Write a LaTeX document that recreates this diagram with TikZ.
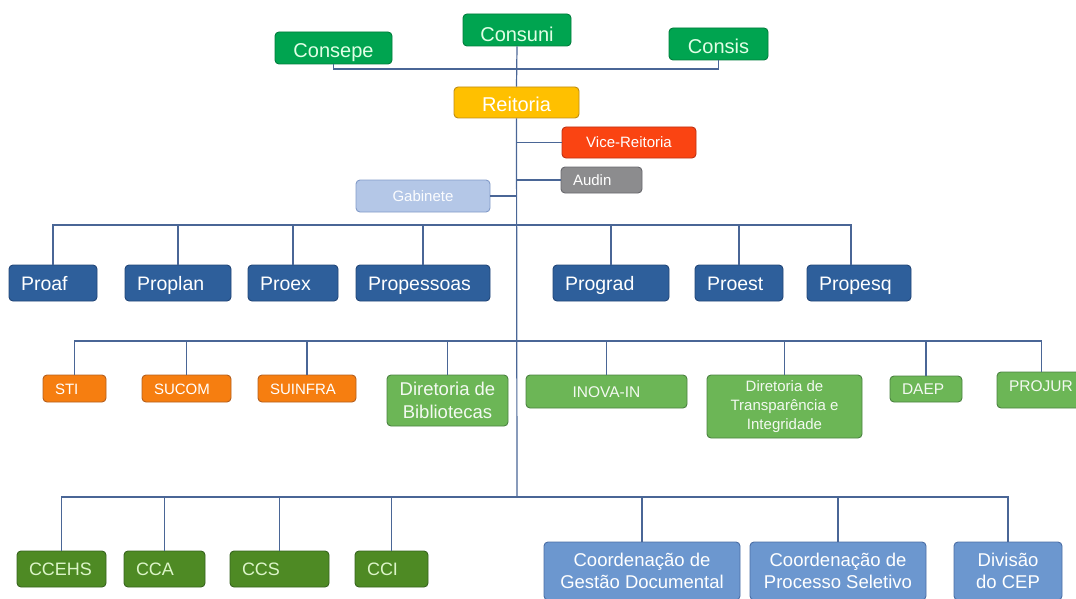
\documentclass[tikz,border=0pt]{standalone}
\usepackage{fontspec}
\setmainfont{Liberation Sans}
\newcommand\fsz[2]{\fontsize{#1}{#2}\selectfont}
\definecolor{cgreen}{RGB}{0,164,80}
\definecolor{cgreenD}{RGB}{0,125,60}
\definecolor{cgreenT}{RGB}{225,255,230}
\definecolor{reit}{RGB}{255,192,0}
\definecolor{reitD}{RGB}{190,140,20}
\definecolor{vice}{RGB}{250,68,18}
\definecolor{viceD}{RGB}{190,50,20}
\definecolor{audin}{RGB}{140,140,142}
\definecolor{audinD}{RGB}{105,105,110}
\definecolor{gab}{RGB}{180,199,231}
\definecolor{gabD}{RGB}{130,155,200}
\definecolor{pro}{RGB}{46,95,155}
\definecolor{proD}{RGB}{34,70,120}
\definecolor{orng}{RGB}{246,126,16}
\definecolor{orngD}{RGB}{180,95,30}
\definecolor{lgrn}{RGB}{108,182,86}
\definecolor{lgrnD}{RGB}{75,130,65}
\definecolor{dgrn}{RGB}{78,138,36}
\definecolor{dgrnD}{RGB}{55,100,30}
\definecolor{dgrnT}{RGB}{220,245,200}
\definecolor{lblu}{RGB}{108,151,207}
\definecolor{lbluD}{RGB}{75,110,165}
\definecolor{lineC}{RGB}{74,102,150}
\begin{document}
\begin{tikzpicture}[x=1pt,y=-1pt,
  box/.style={draw, rounded corners=4pt, line width=0.9pt, inner ysep=0pt, text=white},
  C/.style={minimum width=#1, align=center, inner xsep=2pt},
  L/.style={text width=#1, align=left, inner xsep=12pt},
  topg/.style={box, fill=cgreen, draw=cgreenD, text=cgreenT, font=\fsz{20}{24}, text height=20pt, text depth=0pt},
  reitS/.style={box, fill=reit, draw=reitD, font=\fsz{20}{24}, text height=19pt, text depth=0pt},
  viceS/.style={box, fill=vice, draw=viceD, font=\fsz{15}{18}, text height=10.8pt, text depth=0pt},
  audS/.style={box, fill=audin, draw=audinD, font=\fsz{15}{18}, text height=11.5pt, text depth=0pt},
  gabS/.style={box, fill=gab, draw=gabD, text=white!95!gab, font=\fsz{15}{18}, text height=10.5pt, text depth=0pt},
  proS/.style={box, fill=pro, draw=proD, minimum height=36pt, font=\fsz{19.5}{23}, text height=14pt, text depth=0pt},
  orS/.style={box, fill=orng, draw=orngD, minimum height=27pt, font=\fsz{15}{18}, text height=11.5pt, text depth=0pt},
  lgS/.style={box, fill=lgrn, draw=lgrnD, text=white!92!lgrn},
  one/.style={text height=11.2pt, text depth=0pt},
  dgS/.style={box, fill=dgrn, draw=dgrnD, text=dgrnT, minimum height=36pt, font=\fsz{18}{22}, text height=13pt, text depth=0pt},
  lbS/.style={box, fill=lblu, draw=lbluD, minimum height=58pt, font=\fsz{18.5}{22}},
  conn/.style={draw=lineC, line width=1.2pt}
]
\useasboundingbox (0,0) rectangle (1076,599);

% top level
\node[topg, C=108pt, minimum height=32pt, text height=23pt] (consuni) at (517,30) {Consuni};
\node[topg, C=117pt, minimum height=32pt, text height=18.5pt] (consepe) at (333.5,48) {Consepe};
\node[topg, C=99pt, minimum height=32pt] (consis) at (718.5,44) {Consis};
\node[reitS, C=125pt, minimum height=31pt] (reitoria) at (516.5,102.5) {Reitoria};
\node[viceS, C=134pt, minimum height=31pt] (vice) at (629,142.5) {Vice-Reitoria};
\node[audS, L=57pt, minimum height=26pt] (audin) at (601.5,180) {Audin};
\node[gabS, C=134pt, minimum height=32pt] (gab) at (423,196) {Gabinete};

% pro row
\node[proS, L=64pt] (proaf) at (53,283) {Proaf};
\node[proS, L=82pt] (proplan) at (178,283) {Proplan};
\node[proS, L=66pt] (proex) at (293,283) {Proex};
\node[proS, L=110pt] (propessoas) at (423,283) {Propessoas};
\node[proS, L=92pt] (prograd) at (611,283) {Prograd};
\node[proS, L=64pt] (proest) at (739,283) {Proest};
\node[proS, L=80pt] (propesq) at (859,283) {Propesq};

% third row
\node[orS, L=39pt] (sti) at (74.5,388.5) {STI};
\node[orS, L=65pt] (sucom) at (186.5,388.5) {SUCOM};
\node[orS, L=74pt] (suinfra) at (307,388.5) {SUINFRA};
\node[lgS, C=121pt, minimum height=51pt, font=\fsz{18.5}{23}] (bibl) at (447.5,400.5) {Diretoria de\\Bibliotecas};
\node[lgS, one, C=161pt, minimum height=33pt, font=\fsz{15.5}{18}] (inova) at (606.5,391.5) {INOVA-IN};
\node[lgS, C=155pt, minimum height=63pt, font=\fsz{15}{19}] (transp) at (784.5,406.5) {Diretoria de\\Transparência e\\Integridade};
\node[lgS, one, L=48pt, minimum height=26pt, font=\fsz{15.5}{18}] (daep) at (926,389) {DAEP};
\node[lgS, one, L=61pt, minimum height=36pt, font=\fsz{15.5}{18}, text depth=8pt] (projur) at (1039.5,390) {PROJUR};

% bottom row
\node[dgS, L=65pt] (ccehs) at (61.5,569) {CCEHS};
\node[dgS, L=57pt] (cca) at (164.5,569) {CCA};
\node[dgS, L=75pt] (ccs) at (279.5,569) {CCS};
\node[dgS, L=49pt] (cci) at (391.5,569) {CCI};
\node[lbS, C=196pt] (cgd) at (642,571) {Coordenação de\\Gestão Documental};
\node[lbS, C=176pt] (cps) at (838,571) {Coordenação de\\Processo Seletivo};
\node[lbS, C=108pt] (cep) at (1008,571) {Divisão\\do CEP};

% bus coordinates
\coordinate (tb) at (517,69);
\coordinate (pb) at (517,225);
\coordinate (rb) at (517,341);
\coordinate (bb) at (517,497);

% connectors
\draw[conn] (consepe.south) |- (tb) -| (consis.south);
\draw[conn] (consuni.south) -- (reitoria.north);
\draw[conn] (reitoria.south) -- (bb);
\draw[conn] (vice.west) -- (vice.west -| reitoria.south);
\draw[conn] (audin.west) -- (audin.west -| reitoria.south);
\draw[conn] (gab.east) -- (gab.east -| reitoria.south);

\draw[conn] (proaf.north) |- (pb) -| ([xshift=-8pt]propesq.north);
\foreach \n in {proplan,proex,propessoas,prograd,proest}
  \draw[conn] (\n.north) -- (\n.north |- pb);

\draw[conn] (sti.north) |- (rb) -| ([xshift=2pt]projur.north);
\foreach \n in {sucom,suinfra,bibl,inova,transp,daep}
  \draw[conn] (\n.north) -- (\n.north |- rb);

\draw[conn] (ccehs.north) |- (bb) -| (cep.north);
\foreach \n in {cca,ccs,cci,cgd,cps}
  \draw[conn] (\n.north) -- (\n.north |- bb);
\end{tikzpicture}
\end{document}
